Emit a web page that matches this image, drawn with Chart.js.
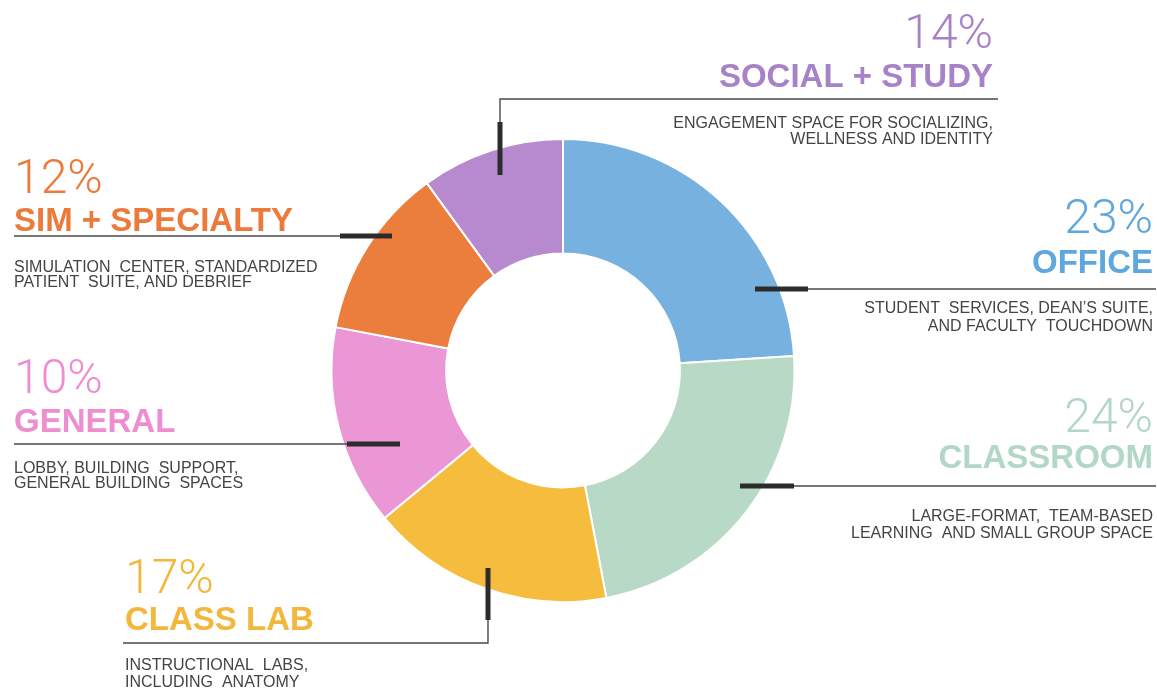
<!DOCTYPE html>
<html>
<head>
  <title>Program Space Breakdown</title>
  <script src="https://cdn.jsdelivr.net/npm/chart.js"></script>
  <style>
    body { margin: 0; background: #fff; }
  </style>
</head>
<body>
  <canvas id="programChart" width="1157" height="691"></canvas>

  <script>
    // slices clockwise from 12 o'clock
    const categories = ['OFFICE', 'CLASSROOM', 'CLASS LAB', 'GENERAL', 'SIM + SPECIALTY', 'SOCIAL + STUDY'];
    // share of the ring each slice takes, as drawn
    const shares = [24, 23, 17, 14, 12, 10];
    // percentages printed next to each slice
    const printedPct = ['23%', '24%', '17%', '10%', '12%', '14%'];
    const descriptions = [
      ['STUDENT  SERVICES, DEAN\u2019S SUITE,', 'AND FACULTY  TOUCHDOWN'],
      ['LARGE-FORMAT,  TEAM-BASED', 'LEARNING  AND SMALL GROUP SPACE'],
      ['INSTRUCTIONAL  LABS,', 'INCLUDING  ANATOMY'],
      ['LOBBY, BUILDING  SUPPORT,', 'GENERAL BUILDING  SPACES'],
      ['SIMULATION  CENTER, STANDARDIZED', 'PATIENT  SUITE, AND DEBRIEF'],
      ['ENGAGEMENT SPACE FOR SOCIALIZING,', 'WELLNESS AND IDENTITY']
    ];

    const sliceColors = ['#77b1df', '#b9d9c7', '#f5bc3e', '#eb97d6', '#ec7e3d', '#b78ad0'];
    const textColors  = ['#5ea8de', '#b2d7c6', '#f3b73c', '#ee8ed0', '#ec7a3b', '#a882c8'];

    // where each callout sits on the page
    const callouts = [
      { align: 'right', x: 1153, pctY: 233, nameY: 273, descY: [313, 331], line: [[1156, 289], [808, 289]], tick: [[808, 289], [755, 289]] },
      { align: 'right', x: 1153, pctY: 432, nameY: 468, descY: [521, 538], line: [[1156, 486], [794, 486]], tick: [[794, 486], [740, 486]] },
      { align: 'left',  x: 125,  pctY: 593, nameY: 630, descY: [670, 687], line: [[123, 643], [488, 643], [488, 620]], tick: [[488, 620], [488, 568]] },
      { align: 'left',  x: 14,   pctY: 393, nameY: 432, descY: [473, 488], line: [[14, 444], [347, 444]], tick: [[347, 444], [400, 444]] },
      { align: 'left',  x: 14,   pctY: 193, nameY: 231, descY: [272, 287], line: [[14, 236], [340, 236]], tick: [[340, 236], [392, 236]] },
      { align: 'right', x: 993,  pctY: 48,  nameY: 87,  descY: [128, 144], line: [[998, 99], [500, 99], [500, 122]], tick: [[500, 122], [500, 175]] }
    ];

    function path(ctx, pts) {
      ctx.beginPath();
      ctx.moveTo(pts[0][0], pts[0][1]);
      for (let i = 1; i < pts.length; i++) ctx.lineTo(pts[i][0], pts[i][1]);
      ctx.stroke();
    }

    const calloutPlugin = {
      id: 'callouts',
      afterDraw(chart) {
        const ctx = chart.ctx;
        ctx.save();
        callouts.forEach((c, i) => {
          ctx.lineCap = 'butt';
          ctx.strokeStyle = '#4a4a4a';
          ctx.lineWidth = 1.4;
          path(ctx, c.line);
          ctx.strokeStyle = '#2c2c2c';
          ctx.lineWidth = 5;
          path(ctx, c.tick);

          ctx.textAlign = c.align;
          ctx.textBaseline = 'alphabetic';
          ctx.fillStyle = textColors[i];
          ctx.font = '300 48px Roboto, "Liberation Sans", sans-serif';
          ctx.fillText(printedPct[i], c.x, c.pctY);
          ctx.font = 'bold 33px "Liberation Sans", Arial, sans-serif';
          ctx.fillText(categories[i], c.x, c.nameY);

          ctx.fillStyle = '#444';
          ctx.font = '16px "Liberation Sans", Arial, sans-serif';
          descriptions[i].forEach((line, k) => ctx.fillText(line, c.x, c.descY[k]));
        });
        ctx.restore();
      }
    };

    new Chart(document.getElementById('programChart'), {
      type: 'doughnut',
      data: {
        labels: categories,
        datasets: [{
          data: shares,
          backgroundColor: sliceColors,
          borderColor: '#fff',
          borderWidth: 2,
          offset: 0,
          hoverOffset: 0
        }]
      },
      options: {
        responsive: false,
        animation: false,
        events: [],
        cutout: '50.5%',
        radius: 231.5,
        layout: { padding: { left: 331, right: 362, top: 139, bottom: 89 } },
        plugins: {
          legend: { display: false },
          tooltip: { enabled: false }
        }
      },
      plugins: [calloutPlugin]
    });
  </script>
</body>
</html>
